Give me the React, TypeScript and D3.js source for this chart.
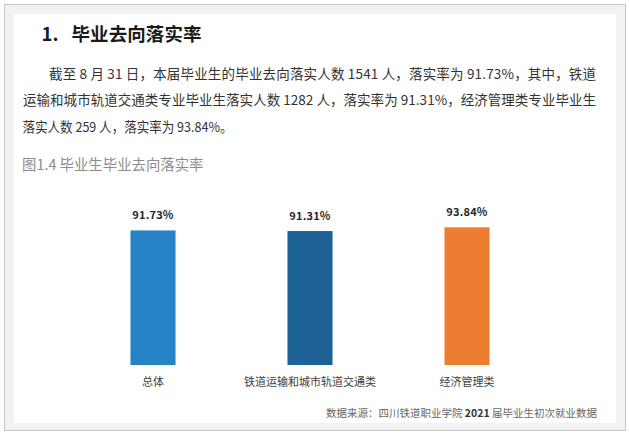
import React from 'react';
import * as d3 from 'd3';

// chart data
const categories = ['总体', '铁道运输和城市轨道交通类', '经济管理类'];
const rates = [91.73, 91.31, 93.84];

// page text
const heading = '毕业去向落实率';
const paragraph = [
  '截至 8 月 31 日，本届毕业生的毕业去向落实人数 1541 人，落实率为 91.73%，其中，铁道',
  '运输和城市轨道交通类专业毕业生落实人数 1282 人，落实率为 91.31%，经济管理类专业毕业生',
  '落实人数 259 人，落实率为 93.84%。',
];
const caption = '图1.4 毕业生毕业去向落实率';

const barColors = ['#2683c6', '#1d6296', '#ed7d31'];
const font = '"Noto Sans CJK SC", "Noto Sans", sans-serif';

const W = 629;
const H = 436;

export default function App() {
  // x: three bands, 157px apart, 45px wide
  const x = d3.scaleBand<string>()
    .domain(categories)
    .range([74.5, 545.5])
    .paddingInner(0.713)
    .paddingOuter(0.3565);

  // y: baseline at 365, 0..100%
  const y = d3.scaleLinear().domain([0, 100]).range([365, 218.3]);

  const bars = categories.map((c, i) => {
    const x0 = x(c) as number;
    const cx = x0 + x.bandwidth() / 2;
    return (
      <g key={c}>
        <rect x={x0} y={y(rates[i])} width={x.bandwidth()}
          height={y(0) - y(rates[i])} fill={barColors[i]} />
        <text x={cx} y={y(rates[i]) - 11.5} textAnchor='middle'
          fontFamily={font} fontWeight='bold' fontSize='11' fill='#262626' letterSpacing='0.2'>
          {d3.format('.2f')(rates[i]) + '%'}
        </text>
        <text x={cx} y={386} textAnchor='middle'
          fontFamily={font} fontSize='11' fill='#404040'>
          {c}
        </text>
      </g>
    );
  });

  return (
    <svg width={W} height={H} style={{ position: 'absolute', left: 0, top: 0, display: 'block' }}>
      <rect x={0} y={0} width={W} height={H} fill='#ffffff' />
      <rect x={4.5} y={4.5} width={621} height={426} fill='#f2f2f2' stroke='#c6c6c6' strokeWidth='1' />
      <rect x={14} y={14} width={602} height={409} fill='#ffffff' />

      <text x={41.5} y={41} fontFamily={font} fontWeight='bold' fontSize='18.5' fill='#1a1a1a'>1.</text>
      <text x={71.5} y={41} fontFamily={font} fontWeight='bold' fontSize='18.5' fill='#1a1a1a'
        textLength={130} lengthAdjust='spacing'>{heading}</text>

      <text x={49} y={78.5} fontFamily={font} fontSize='13.5' fill='#333333'
        textLength={547} lengthAdjust='spacing'>{paragraph[0]}</text>
      <text x={23} y={105} fontFamily={font} fontSize='13.5' fill='#333333'
        textLength={573} lengthAdjust='spacing'>{paragraph[1]}</text>
      <text x={22.5} y={131.5} fontFamily={font} fontSize='13.5' fill='#333333'
        textLength={210} lengthAdjust='spacingAndGlyphs'>{paragraph[2]}</text>

      <text x={22} y={169.5} fontFamily={font} fontSize='14.4' fill='#8c8c8c'>{caption}</text>

      {bars}

      <text x={597} y={417} textAnchor='end' fontFamily={font} fontSize='10.5' fill='#666666'>
        数据来源：四川铁道职业学院 <tspan fontWeight='bold' fill='#333333'>2021</tspan> 届毕业生初次就业数据
      </text>
    </svg>
  );
}
